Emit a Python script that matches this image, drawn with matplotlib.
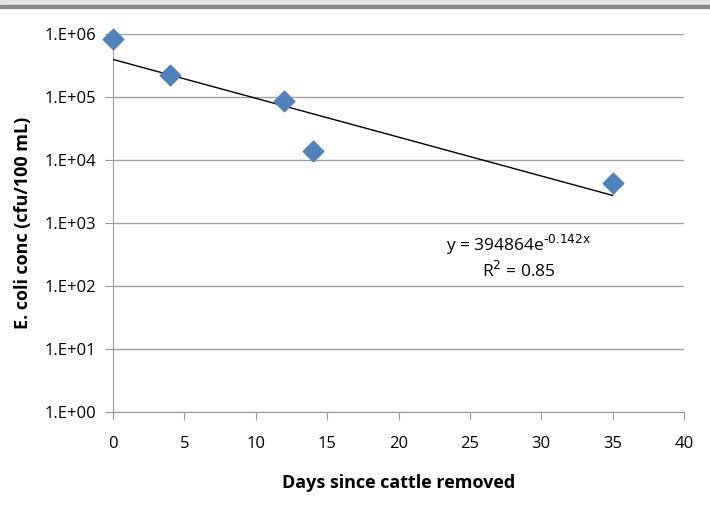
import matplotlib
matplotlib.use("Agg")
import matplotlib.pyplot as plt
from matplotlib.patches import Rectangle
from matplotlib import font_manager
import numpy as np

names = {f.name for f in font_manager.fontManager.ttflist}
fam = 'Liberation Sans Narrow' if 'Liberation Sans Narrow' in names else 'Open Sans'
plt.rcParams['font.family'] = [fam, 'DejaVu Sans']
plt.rcParams['axes.unicode_minus'] = False

days = [0, 4, 12, 14, 35]
conc = [8.3e5, 2.2e5, 8.7e4, 1.38e4, 4.3e3]
fit_a = 394864
fit_b = -0.142
fit_x = [0, 35]
yticks = [1e0, 1e1, 1e2, 1e3, 1e4, 1e5, 1e6]
ytick_labels = ['1.E+00', '1.E+01', '1.E+02', '1.E+03', '1.E+04', '1.E+05', '1.E+06']
xticks = [0, 5, 10, 15, 20, 25, 30, 35, 40]

fig = plt.figure(figsize=(7.10, 5.19), dpi=100)
ax = fig.add_axes([113/710, 1-412/519, (684-113)/710, (412-34)/519])

# top bar artifact
fig.patches.append(Rectangle((0, 1-6/519), 1, 6/519, transform=fig.transFigure,
                             color='#e4e4e4', zorder=0))
fig.patches.append(Rectangle((0, 1-8/519), 1, 2.5/519, transform=fig.transFigure,
                             color='#8a8a8a', zorder=0))

xs = np.linspace(fit_x[0], fit_x[1], 100)
ax.plot(xs, fit_a*np.exp(fit_b*xs), color='black', lw=1, zorder=3)
ax.scatter(days, conc, marker='D', s=110, color='#4f81bd', edgecolors='#4f81bd',
           zorder=4, clip_on=False)

ax.set_yscale('log')
ax.set_ylim(1, 1e6)
ax.set_xlim(0, 40)
ax.set_yticks(yticks)
ax.set_yticklabels(ytick_labels)
ax.minorticks_off()
ax.set_xticks(xticks)
ax.grid(axis='y', color='#a0a0a0', lw=1)
ax.set_axisbelow(True)
for s in ['top', 'right']:
    ax.spines[s].set_visible(False)
for s in ['left', 'bottom']:
    ax.spines[s].set_color('#9a9a9a')
ax.tick_params(axis='both', colors='#9a9a9a', labelcolor='black', labelsize=12, length=6)
ax.tick_params(axis='y', pad=6)
ax.tick_params(axis='x', pad=11)

ax.set_xlabel('Days since cattle removed', fontsize=13, fontweight='bold', labelpad=16)
ax.set_ylabel('E. coli conc (cfu/100 mL)', fontsize=13, fontweight='bold', labelpad=9)

ax.text(519/710, 1-245/519, 'y = 394864e$^{\\text{-0.142x}}$', transform=fig.transFigure,
        ha='center', va='center', fontsize=12.5)
ax.text(519/710, 1-271/519, 'R$^{\\text{2}}$ = 0.85', transform=fig.transFigure,
        ha='center', va='center', fontsize=12.5)

fig.savefig('out.png', dpi=100)
